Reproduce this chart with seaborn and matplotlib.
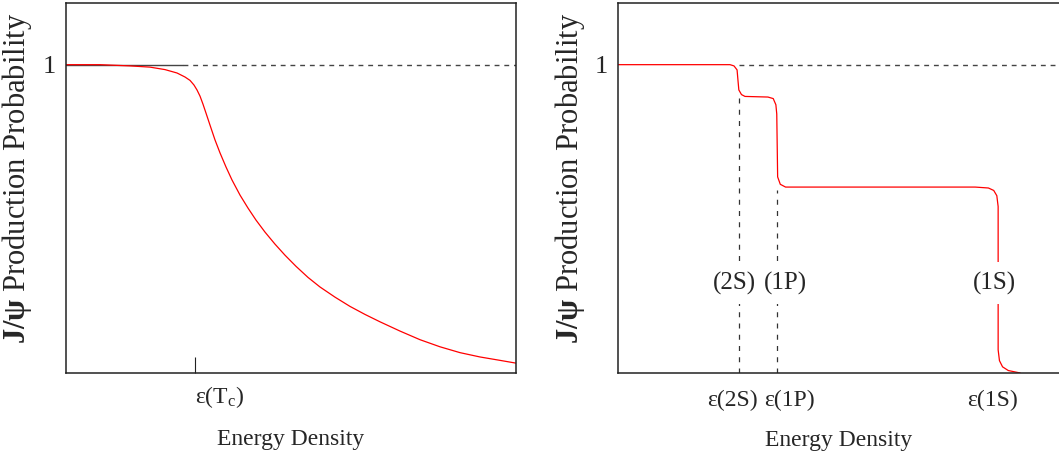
import pandas as pd
import seaborn as sns
import matplotlib.pyplot as plt

sns.set_theme(style="white")
plt.rcParams["font.family"] = ["Liberation Serif", "DejaVu Serif"]
plt.rcParams["mathtext.fontset"] = "custom"
plt.rcParams["mathtext.rm"] = "Liberation Serif"
plt.rcParams["mathtext.it"] = "Liberation Serif:italic"
plt.rcParams["mathtext.bf"] = "Liberation Serif:bold"

# Left panel: smooth suppression above T_c
left_x = [0, 0.756, 1.422, 1.867, 2.2, 2.467, 2.644, 2.756, 2.844, 2.911, 2.978,
          3.044, 3.111, 3.2, 3.311, 3.422, 3.556, 3.689, 3.867, 4.044, 4.222, 4.422,
          4.644, 4.867, 5.111, 5.378, 5.644, 5.978, 6.311, 6.644, 6.978, 7.422, 7.867,
          8.311, 8.756, 9.2, 9.644, 10]
left_y = [1.0, 1.0, 0.996, 0.992, 0.984, 0.973, 0.960, 0.949, 0.934, 0.918, 0.898,
          0.872, 0.843, 0.804, 0.756, 0.714, 0.668, 0.626, 0.577, 0.535, 0.496, 0.457,
          0.418, 0.382, 0.346, 0.310, 0.279, 0.246, 0.216, 0.190, 0.166, 0.136, 0.108,
          0.085, 0.066, 0.052, 0.041, 0.032]
left_tick = 2.867
left_tick_label = r"ε(T$_\mathrm{c}$)"

# Right panel: sequential suppression steps
right_x = [0, 2.54, 2.63, 2.70, 2.72, 2.74, 2.80, 2.88, 3.40, 3.52, 3.58, 3.60, 3.62,
           3.68, 3.80, 8.10, 8.40, 8.52, 8.59, 8.62, 8.62, 8.65, 8.72, 8.85, 9.12]
right_y = [1.0, 1.0, 0.996, 0.983, 0.95, 0.918, 0.903, 0.897, 0.895, 0.89, 0.87, 0.84,
           0.636, 0.612, 0.603, 0.603, 0.600, 0.592, 0.575, 0.54, 0.075, 0.04, 0.02, 0.008, 0.0]
states = ["(2S)", "(1P)", "(1S)"]
state_x = [2.744, 3.605, 8.62]          # threshold energy densities
state_top = [0.895, 0.594, None]        # where the dashed markers start
state_label_x = [2.65, 3.79, 8.53]
tick_label_x = [2.59, 3.88, 8.50]
tick_labels = ["ε(2S)", "ε(1P)", "ε(1S)"]

left_df = pd.DataFrame({"x": left_x, "y": left_y})
right_df = pd.DataFrame({"x": right_x, "y": right_y})

fig = plt.figure(figsize=(10.59, 4.62), dpi=100)
ax1 = fig.add_axes([66 / 1059, 89 / 462, 450 / 1059, 370 / 462])
ax2 = fig.add_axes([618 / 1059, 89 / 462, 441 / 1059, 370 / 462])

ylabel = r"$\mathbf{J/ψ}$ Production Probability"
for ax in (ax1, ax2):
    ax.set_xlim(0, 10)
    ax.set_ylim(0, 1.2)
    ax.set_yticks([1])
    ax.set_yticklabels(["1"], fontsize=19)
    ax.tick_params(axis="y", length=0, pad=7)
    ax.set_xlabel("Energy Density", fontsize=17, labelpad=14)
    ax.set_ylabel(ylabel, fontsize=22)
    ax.yaxis.set_label_coords(-0.071, 0.527)
    for s in ax.spines.values():
        s.set_color("#222222")
        s.set_linewidth(1.1)

# left
ax1.plot([0, 2.6], [1, 1], color="#444444", lw=1.0)
ax1.plot([2.6, 10], [1, 1], color="#444444", lw=1.0, ls=(0, (3.5, 3.5)))
sns.lineplot(data=left_df, x="x", y="y", ax=ax1, color="red", lw=0.9,
             estimator=None, sort=False)
ax1.set_xticks([left_tick])
ax1.set_xticklabels([left_tick_label], fontsize=17, ha="left")
ax1.tick_params(axis="x", bottom=True, direction="in", length=11.5, width=0.8,
                color="#222222", pad=8)
for lbl in ax1.get_xticklabels():
    lbl.set_x(left_tick - 0.05)

# right
ax2.spines["right"].set_visible(False)
ax2.plot([state_x[0], 10], [1, 1], color="#444444", lw=1.0, ls=(0, (3.5, 3.5)))
for xv, top in zip(state_x, state_top):
    if top is not None:
        ax2.plot([xv, xv], [0, top], color="#333333", lw=0.9, ls=(0, (4, 5)))
sns.lineplot(data=right_df, x="x", y="y", ax=ax2, color="red", lw=0.9,
             estimator=None, sort=False)
for name, lx in zip(states, state_label_x):
    ax2.text(lx, 0.292, name, fontsize=18, ha="center", va="center",
             bbox=dict(facecolor="white", edgecolor="none", pad=7))
ax2.set_xticks(tick_label_x)
ax2.set_xticklabels(tick_labels, fontsize=17)
ax2.tick_params(axis="x", length=0, pad=12)

fig.savefig("out.png", dpi=100)
